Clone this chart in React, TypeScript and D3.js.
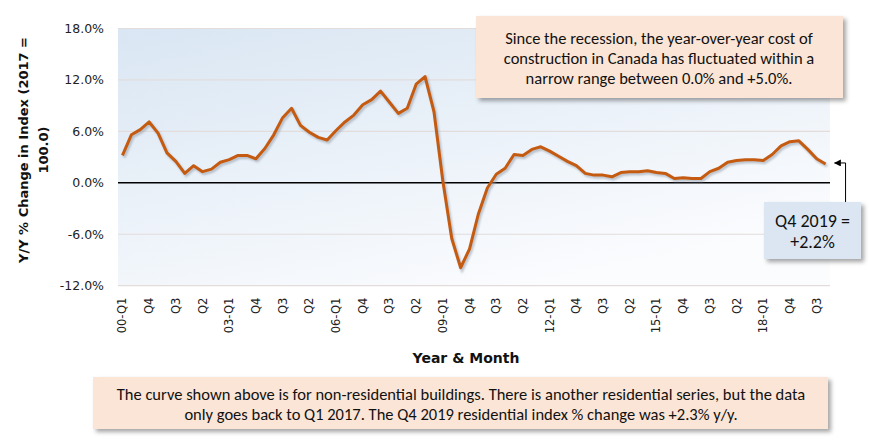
import React from 'react';
import * as d3 from 'd3';

// quarterly periods 2000-Q1 .. 2019-Q4
const years = d3.range(2000, 2020);
const quarters = ['Q1', 'Q2', 'Q3', 'Q4'];
const periods = years.flatMap(y => quarters.map(q => `${String(y).slice(2)}-${q}`));

// Y/Y % change, non-residential building construction price index
const changes = [
  3.2, 5.6, 6.2, 7.1, 5.8, 3.5, 2.5, 1.1, 2.0, 1.3,
  1.6, 2.4, 2.7, 3.2, 3.2, 2.8, 4.0, 5.6, 7.6, 8.7,
  6.7, 5.9, 5.3, 5.0, 6.1, 7.1, 7.9, 9.1, 9.7, 10.7,
  9.4, 8.1, 8.7, 11.5, 12.4, 8.3, 0.2, -6.5, -9.9, -7.7,
  -3.6, -0.6, 1.0, 1.7, 3.3, 3.2, 3.9, 4.2, 3.7, 3.1,
  2.5, 2.0, 1.1, 0.9, 0.9, 0.7, 1.2, 1.3, 1.3, 1.4,
  1.2, 1.1, 0.5, 0.6, 0.5, 0.5, 1.3, 1.7, 2.4, 2.6,
  2.7, 2.7, 2.6, 3.3, 4.3, 4.8, 4.9, 3.9, 2.8, 2.2,
];

const tickLabels = [
  '00-Q1', 'Q4', 'Q3', 'Q2', '03-Q1', 'Q4', 'Q3', 'Q2', '06-Q1',
  'Q4', 'Q3', 'Q2', '09-Q1', 'Q4', 'Q3', 'Q2', '12-Q1', 'Q4',
  'Q3', 'Q2', '15-Q1', 'Q4', 'Q3', 'Q2', '18-Q1', 'Q4', 'Q3',
];
const yTicks = [-12, -6, 0, 6, 12, 18];

const noteTop = [
  'Since the recession, the year-over-year cost of',
  'construction in Canada has fluctuated within a',
  'narrow range between 0.0% and +5.0%.',
];
const noteBottom = [
  'The curve shown above is for non-residential buildings. There is another residential series, but the data',
  'only goes back to Q1 2017. The Q4 2019 residential index % change was +2.3% y/y.',
];
const noteLast = ['Q4 2019 =', '+2.2%'];

const W = 870;
const H = 448;
const margin = { top: 28.5, right: 40, bottom: 162.3, left: 118 };

const App: React.FC = () => {
  const x = d3.scaleBand<string>()
    .domain(periods)
    .range([margin.left, W - margin.right]);
  const y = d3.scaleLinear()
    .domain([-12, 18])
    .range([H - margin.bottom, margin.top]);
  const cx = (p: string) => (x(p) as number) + x.bandwidth() / 2;

  const line = d3.line<number>()
    .x((_, i) => cx(periods[i]))
    .y(d => y(d));

  const lastX = cx(periods[periods.length - 1]);
  const lastY = y(changes[changes.length - 1]);

  const calibri = "Carlito, Lato, 'Open Sans', sans-serif";
  const gothic = "'DejaVu Sans', Verdana, sans-serif";

  return (
    <svg width={W} height={H} style={{ position: 'absolute', left: 0, top: 0, background: '#fff' }}>
      <defs>
        <linearGradient id="plotBg" x1="0" y1="0" x2="0.6" y2="1">
          <stop offset="0%" stopColor="#d9e6f3" />
          <stop offset="100%" stopColor="#fbfcfe" />
        </linearGradient>
        <filter id="boxShadow" x="-10%" y="-20%" width="130%" height="150%">
          <feDropShadow dx="3" dy="3" stdDeviation="2" floodColor="#000" floodOpacity="0.35" />
        </filter>
        <filter id="lineShadow" x="-5%" y="-5%" width="110%" height="110%">
          <feGaussianBlur stdDeviation="1" />
        </filter>
        <marker id="arrow" viewBox="0 0 10 10" refX="9" refY="5" markerWidth="7" markerHeight="7" orient="auto-start-reverse">
          <path d="M0,0 L10,5 L0,10 z" fill="#000" />
        </marker>
      </defs>

      {/* plot area */}
      <rect
        x={margin.left}
        y={margin.top}
        width={W - margin.left - margin.right}
        height={H - margin.top - margin.bottom}
        fill="url(#plotBg)"
      />

      {/* grid */}
      {yTicks.map(t => (
        <line
          key={t}
          x1={margin.left}
          x2={W - margin.right}
          y1={y(t)}
          y2={y(t)}
          stroke={t === 0 ? '#000' : '#e2dcdb'}
          strokeWidth={t === 0 ? 1.6 : 1.2}
        />
      ))}

      {/* y tick labels */}
      {yTicks.map(t => (
        <text
          key={t}
          x={margin.left - 14}
          y={y(t)}
          textAnchor="end"
          dominantBaseline="central"
          fontFamily={gothic}
          fontSize={12.5}
          fill="#222"
        >
          {t.toFixed(1)}%
        </text>
      ))}

      {/* x tick labels */}
      {tickLabels.map((lab, i) => {
        const px = cx(periods[i * 3]);
        return (
          <text
            key={i}
            transform={`translate(${px},${H - margin.bottom + 12}) rotate(-90)`}
            textAnchor="end"
            dominantBaseline="central"
            fontFamily={gothic}
            fontSize={11.5}
            fill="#222"
          >
            {lab}
          </text>
        );
      })}

      {/* axis titles */}
      <text
        transform={`translate(23,150) rotate(-90)`}
        textAnchor="middle"
        dominantBaseline="central"
        fontFamily={gothic}
        fontWeight="bold"
        fontSize={13}
        fill="#111"
      >
        Y/Y % Change in Index (2017 =
      </text>
      <text
        transform={`translate(43,150) rotate(-90)`}
        textAnchor="middle"
        dominantBaseline="central"
        fontFamily={gothic}
        fontWeight="bold"
        fontSize={13}
        fill="#111"
      >
        100.0)
      </text>
      <text
        x={466}
        y={358}
        textAnchor="middle"
        dominantBaseline="central"
        fontFamily={gothic}
        fontWeight="bold"
        fontSize={14}
        fill="#111"
      >
        Year &amp; Month
      </text>

      {/* series */}
      <path
        d={line(changes) || ''}
        transform="translate(1.5,2)"
        fill="none"
        stroke="#8c96a3"
        strokeOpacity={0.6}
        strokeWidth={3}
        filter="url(#lineShadow)"
      />
      <path
        d={line(changes) || ''}
        fill="none"
        stroke="#c55a11"
        strokeWidth={3}
        strokeLinejoin="round"
      />

      {/* top note */}
      <rect x={476} y={16} width={367} height={82} fill="#fbe5d6" filter="url(#boxShadow)" />
      {noteTop.map((s, i) => (
        <text
          key={i}
          x={659}
          y={37.5 + i * 20.3}
          textAnchor="middle"
          dominantBaseline="central"
          fontFamily={calibri}
          fontSize={16.5}
          fill="#111"
        >
          {s}
        </text>
      ))}

      {/* last value callout */}
      <path
        d={`M${lastX + 20},202 L${lastX + 20},${lastY - 1} L${lastX + 9},${lastY - 1}`}
        fill="none"
        stroke="#000"
        strokeWidth={1}
        markerEnd="url(#arrow)"
      />
      <rect x={764} y={202} width={97} height={57} fill="#dce6f2" filter="url(#boxShadow)" />
      {noteLast.map((s, i) => (
        <text
          key={i}
          x={812.5}
          y={221 + i * 21}
          textAnchor="middle"
          dominantBaseline="central"
          fontFamily={calibri}
          fontSize={18}
          fill="#111"
        >
          {s}
        </text>
      ))}

      {/* bottom note */}
      <rect x={93} y={377} width={735} height={52} fill="#fbe5d6" filter="url(#boxShadow)" />
      {noteBottom.map((s, i) => (
        <text
          key={i}
          x={461}
          y={394 + i * 20.3}
          textAnchor="middle"
          dominantBaseline="central"
          fontFamily={calibri}
          fontSize={16.5}
          fill="#111"
        >
          {s}
        </text>
      ))}
    </svg>
  );
};

export default App;
